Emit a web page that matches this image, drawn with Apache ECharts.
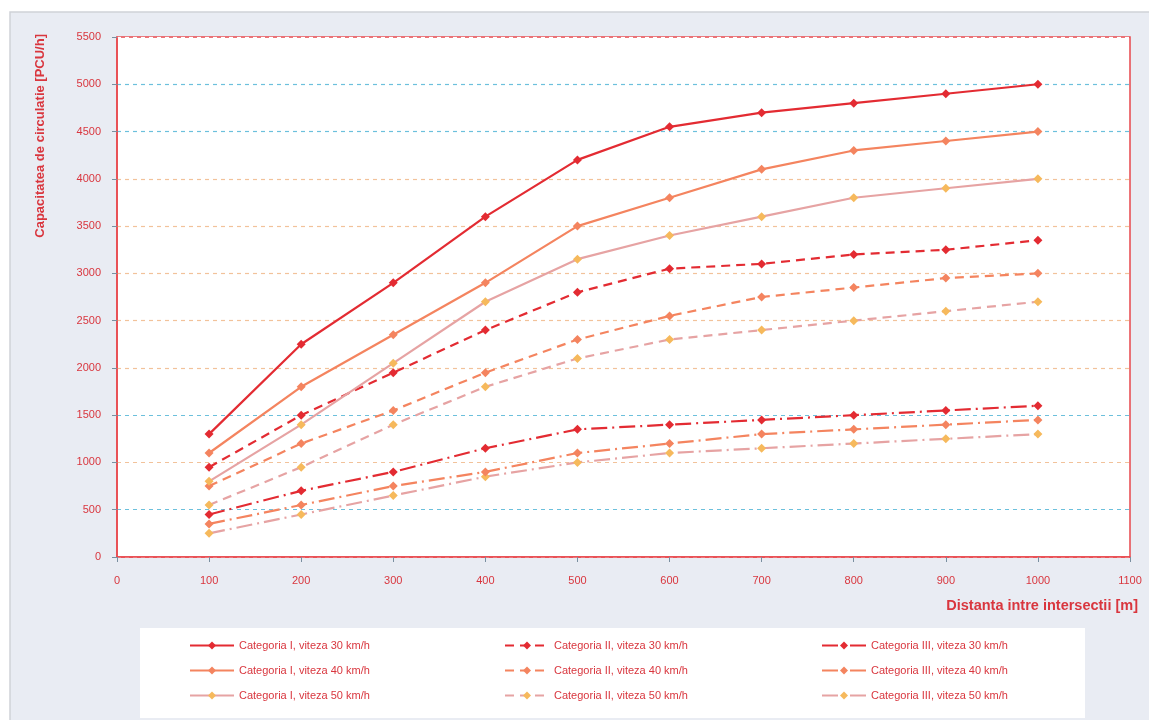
<!DOCTYPE html>
<html><head><meta charset="utf-8">
<script src="https://cdn.jsdelivr.net/npm/echarts@6/dist/echarts.min.js"></script>
<style>html,body{margin:0;padding:0;background:#fff}#c{width:1149px;height:720px}</style>
</head><body><div id="c"></div>
<script>
const distances = [100,200,300,400,500,600,700,800,900,1000];
const yTicks = [0,500,1000,1500,2000,2500,3000,3500,4000,4500,5000,5500];
const xTicks = [0,100,200,300,400,500,600,700,800,900,1000,1100];
const catI_30  = [1300,2250,2900,3600,4200,4550,4700,4800,4900,5000];
const catI_40  = [1100,1800,2350,2900,3500,3800,4100,4300,4400,4500];
const catI_50  = [800,1400,2050,2700,3150,3400,3600,3800,3900,4000];
const catII_30 = [950,1500,1950,2400,2800,3050,3100,3200,3250,3350];
const catII_40 = [750,1200,1550,1950,2300,2550,2750,2850,2950,3000];
const catII_50 = [550,950,1400,1800,2100,2300,2400,2500,2600,2700];
const catIII_30 = [450,700,900,1150,1350,1400,1450,1500,1550,1600];
const catIII_40 = [350,550,750,900,1100,1200,1300,1350,1400,1450];
const catIII_50 = [250,450,650,850,1000,1100,1150,1200,1250,1300];
const names = [
 'Categoria I, viteza 30 km/h','Categoria I, viteza 40 km/h','Categoria I, viteza 50 km/h',
 'Categoria II, viteza 30 km/h','Categoria II, viteza 40 km/h','Categoria II, viteza 50 km/h',
 'Categoria III, viteza 30 km/h','Categoria III, viteza 40 km/h','Categoria III, viteza 50 km/h'];
const yTitle = 'Capacitatea de circulatie [PCU/h]';
const xTitle = 'Distanta intre intersectii [m]';

const TXT = '#d9363e';
const FONT = 'Liberation Sans';
const lineCols = ['#e32b32','#f4845f','#e6a3a3'];
const markCols = ['#e32b32','#f4845f','#f6b95c'];
const dashes = ['solid',[9,6],[16,5,2,5]];
const allData = [catI_30,catI_40,catI_50,catII_30,catII_40,catII_50,catIII_30,catIII_40,catIII_50];

const series = allData.map((arr,i)=>{
  const cat = Math.floor(i/3), sp = i%3;
  return {
    name: names[i], type:'line',
    data: distances.map((d,k)=>[d,arr[k]]),
    symbol:'diamond', symbolSize: 9,
    lineStyle:{color: lineCols[sp], width: 2.2, type: dashes[cat]},
    itemStyle:{color: markCols[sp]},
    emphasis:{disabled:true}, animation:false, z: 10-i
  };
});

const legendBase = (col, left) => ({
  orient:'vertical', left: left, top: 635, itemGap: 14, itemWidth: 44, itemHeight: 10,
  data: [names[col*3], names[col*3+1], names[col*3+2]],
  textStyle:{color: TXT, fontFamily: FONT, fontSize: 11}, selectedMode:false
});

const chart = echarts.init(document.getElementById('c'), null, {renderer:'canvas'});
chart.setOption({
  backgroundColor:'#ffffff',
  animation:false,
  graphic:[
    {type:'rect', z:-100, shape:{x:10,y:12,width:1150,height:720}, style:{fill:'#e9ecf3', stroke:'#cfd2d8', lineWidth:1.5}, silent:true},
    {type:'rect', z:-90, shape:{x:140,y:628,width:945,height:90}, style:{fill:'#ffffff'}, silent:true},
    {type:'text', x:40, y:34, rotation: Math.PI/2, style:{text: yTitle, align:'right', verticalAlign:'middle', fill: TXT, font:'bold 13px "Liberation Sans"'}},
    {type:'text', x:1138, y:606, style:{text: xTitle, align:'right', verticalAlign:'middle', fill: TXT, font:'bold 14.5px "Liberation Sans"'}}
  ],
  grid:{left:117, right:19, top:37, bottom:163, show:true, backgroundColor:'#ffffff', borderColor:'#e8474c', borderWidth:1.5, containLabel:false},
  xAxis:{type:'value', min:xTicks[0], max:xTicks[xTicks.length-1], interval:100,
    axisLine:{show:true, lineStyle:{color:'#e8474c', width:1.5}},
    axisTick:{show:true, length:5, lineStyle:{color:'#7a8fa0'}},
    axisLabel:{color:TXT, fontFamily:FONT, fontSize:11, margin:18, formatter: v => String(v)},
    splitLine:{show:false}},
  yAxis:{type:'value', min:yTicks[0], max:yTicks[yTicks.length-1], interval:500,
    axisLine:{show:true, lineStyle:{color:'#e8474c', width:1.5}},
    axisTick:{show:true, length:5, lineStyle:{color:'#7a8fa0'}},
    axisLabel:{color:TXT, fontFamily:FONT, fontSize:11, margin:16, formatter: v => String(v)},
    splitLine:{show:true, lineStyle:{type:[4,4], width:1.2,
      color:['#ffffff','#6cc0dc','#f2c29a','#6cc0dc','#f2c29a','#f2c29a','#f2c29a','#f2c29a','#f2c29a','#6cc0dc','#6cc0dc','#ffffff']}}},
  legend:[legendBase(0,184), legendBase(1,499), legendBase(2,816)],
  series: series
});
</script></body></html>
